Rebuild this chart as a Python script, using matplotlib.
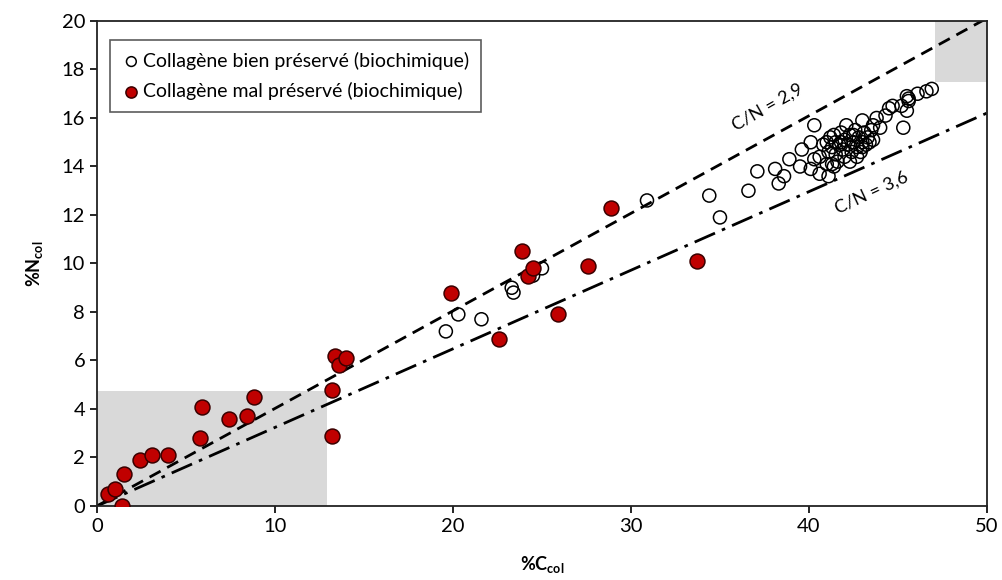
import numpy as np
import matplotlib.pyplot as plt
from matplotlib.patches import Rectangle

plt.rcParams['font.family'] = ['Lato', 'DejaVu Sans']
plt.rcParams['mathtext.fontset'] = 'custom'
plt.rcParams['mathtext.rm'] = 'Lato'
plt.rcParams['mathtext.bf'] = 'Lato:bold'

# Collagene bien preserve (open circles)
good_c = [19.6, 20.3, 21.6, 23.3, 23.4, 24.5, 25.0, 30.9, 34.4, 35.0,
          36.6, 37.1, 38.1, 38.3, 38.6, 38.9, 39.5, 39.6, 40.1, 40.1,
          40.3, 40.3, 40.6, 40.6, 41.0, 41.1, 41.4,
          40.8, 41.0, 41.1, 41.2, 41.3, 41.4, 41.5, 41.5, 41.6, 41.7,
          41.8, 41.9, 42.0, 42.0, 42.1, 42.2, 42.3, 42.4, 42.5, 42.6,
          42.7, 42.8, 42.9, 43.0, 43.0, 43.1, 43.2, 43.3, 43.4, 43.5,
          43.6, 43.6, 41.3, 42.3, 42.7, 41.8, 42.5, 43.0,
          43.8, 44.0, 44.3, 44.5, 44.7, 45.2, 45.3, 45.5, 45.5, 45.6,
          45.6, 46.1, 46.6, 46.9]
good_n = [7.2, 7.9, 7.7, 9.0, 8.8, 9.5, 9.8, 12.6, 12.8, 11.9,
          13.0, 13.8, 13.9, 13.3, 13.6, 14.3, 14.0, 14.7, 15.0, 13.9,
          14.3, 15.7, 13.7, 14.4, 14.1, 13.6, 14.0,
          14.9, 15.0, 14.6, 15.2, 14.8, 15.3, 14.5, 15.0, 14.2, 14.9,
          15.4, 14.7, 15.1, 14.4, 15.7, 14.9, 15.3, 14.6, 15.0, 15.5,
          14.8, 15.2, 14.6, 15.0, 15.9, 15.4, 14.9, 15.2, 15.0, 15.5,
          15.7, 15.1, 14.1, 14.2, 14.4, 15.0, 15.3, 14.8,
          16.0, 15.6, 16.1, 16.4, 16.5, 16.5, 15.6, 16.3, 16.9, 16.7,
          16.8, 17.0, 17.1, 17.2]

# Collagene mal preserve (red circles)
bad_c = [0.6, 1.0, 1.5, 1.4, 2.4, 3.1, 4.0, 5.8, 5.9, 7.4, 8.4, 8.8,
         13.2, 13.2, 13.4, 13.6, 14.0, 19.9, 22.6, 23.9, 24.2, 24.5,
         25.9, 27.6, 28.9, 33.7]
bad_n = [0.5, 0.7, 1.3, 0.0, 1.9, 2.1, 2.1, 2.8, 4.1, 3.6, 3.7, 4.5,
         4.8, 2.9, 6.2, 5.8, 6.1, 8.8, 6.9, 10.5, 9.5, 9.8,
         7.9, 9.9, 12.3, 10.1]

# atomic C/N ratios
ratios = [2.9, 3.6]

fig = plt.figure(figsize=(10.03, 5.8), dpi=100)
ax = fig.add_axes([0.0967, 0.1276, 0.8873, 0.8362])

ax.add_patch(Rectangle((0, 0), 12.9, 4.75, color='#d9d9d9', lw=0, zorder=0))
ax.add_patch(Rectangle((47.1, 17.5), 2.9, 2.5, color='#d9d9d9', lw=0, zorder=0))

xs = np.array([0, 50])
ax.plot(xs, xs * 14 / (12 * ratios[0]), color='black', lw=2.0,
        dashes=(4.5, 2.7), zorder=2)
ax.plot(xs, xs * 14 / (12 * ratios[1]), color='black', lw=2.0,
        dashes=(8, 2.7, 1.3, 2.7), zorder=2)

ax.scatter(good_c, good_n, s=88, facecolors='none', edgecolors='black',
           linewidths=1.1, zorder=3,
           label='Collagène bien préservé (biochimique)')
ax.scatter(bad_c, bad_n, s=115, facecolors='#c00000', edgecolors='#3a0000',
           linewidths=1.1, zorder=4,
           label='Collagène mal préservé (biochimique)')

ax.text(37.7, 16.45, 'C/N = 2,9', rotation=29.5, ha='center', va='center',
        fontsize=13)
ax.text(43.5, 12.9, 'C/N = 3,6', rotation=25, ha='center', va='center',
        fontsize=13)

ax.set_xlim(0, 50)
ax.set_ylim(0, 20)
ax.set_xticks(range(0, 51, 10))
ax.set_yticks(range(0, 21, 2))
ax.tick_params(labelsize=14.5, length=5, width=1.2, direction='out',
               top=False, right=False)
for sp in ax.spines.values():
    sp.set_linewidth(1.3)
    sp.set_color('#222222')

ax.set_xlabel('%C$_{\\mathbf{col}}$', fontsize=13, fontweight='bold', labelpad=14)
ax.set_ylabel('%N$_{\\mathbf{col}}$', fontsize=13, fontweight='bold', labelpad=12)

leg = ax.legend(loc='upper left', bbox_to_anchor=(0.0146, 0.961), fontsize=14,
                frameon=True, fancybox=False, edgecolor='#333333',
                handletextpad=0.1, handlelength=1.0, markerscale=0.75,
                borderpad=0.6, labelspacing=0.65, borderaxespad=0)
leg.get_frame().set_linewidth(1.2)

plt.savefig('out.png', dpi=100)
